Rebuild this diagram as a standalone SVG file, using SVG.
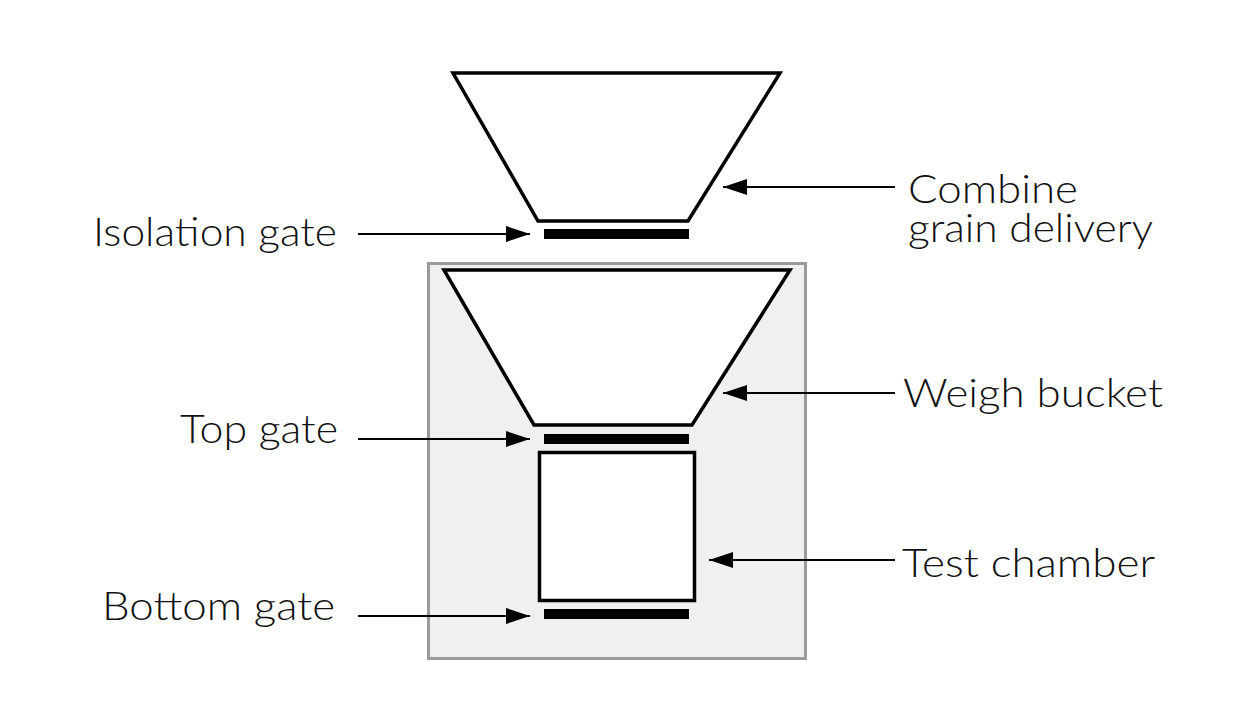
<svg xmlns="http://www.w3.org/2000/svg" width="1237" height="708" viewBox="0 0 1237 708">
<defs>
<marker id="ah" markerUnits="userSpaceOnUse" markerWidth="26" markerHeight="18" refX="24" refY="8" orient="auto">
<path d="M0,0 L24,8 L0,16 Z" fill="#000"/>
</marker>
</defs>
<style>
.lbl{font-family:"Lato","Open Sans","Liberation Sans",sans-serif;font-weight:300;font-size:40px;fill:#111}
.shape{fill:#fff;stroke:#000;stroke-width:3.5;stroke-linejoin:miter}
.gate{fill:#000}
.conn{stroke:#000;stroke-width:2;fill:none;marker-end:url(#ah)}
</style>
<rect width="1237" height="708" fill="#fff"/>
<g id="enclosure">
<rect x="428.5" y="263.5" width="377" height="395" fill="#f0f0f0" stroke="#9a9a9a" stroke-width="3"/>
</g>
<g id="combine-hopper">
<polygon class="shape" points="453,73 780,73 688,221 538,221"/>
</g>
<g id="isolation-gate">
<rect class="gate" x="544" y="229" width="145" height="10"/>
</g>
<g id="weigh-bucket">
<polygon class="shape" points="444,270 790,270 692,425 534,425"/>
</g>
<g id="top-gate">
<rect class="gate" x="544" y="434" width="145" height="10"/>
</g>
<g id="test-chamber">
<rect class="shape" x="539.5" y="452.5" width="155" height="148"/>
</g>
<g id="bottom-gate">
<rect class="gate" x="544" y="609" width="145" height="10"/>
</g>
<g id="connectors">
<line class="conn" x1="358" y1="234" x2="530" y2="234"/>
<line class="conn" x1="358" y1="439" x2="530" y2="439"/>
<line class="conn" x1="358" y1="616" x2="530" y2="616"/>
<line class="conn" x1="895" y1="187" x2="723" y2="187"/>
<line class="conn" x1="895" y1="393" x2="723" y2="393"/>
<line class="conn" x1="895" y1="560" x2="709" y2="560"/>
</g>
<g id="labels">
<text class="lbl" x="93" y="246" textLength="244" lengthAdjust="spacingAndGlyphs">Isolation gate</text>
<text class="lbl" x="180" y="443" textLength="158" lengthAdjust="spacingAndGlyphs">Top gate</text>
<text class="lbl" x="102" y="620" textLength="233" lengthAdjust="spacingAndGlyphs">Bottom gate</text>
<text class="lbl" x="908" y="203" textLength="170" lengthAdjust="spacingAndGlyphs">Combine</text>
<text class="lbl" x="908" y="242" textLength="245" lengthAdjust="spacingAndGlyphs">grain delivery</text>
<text class="lbl" x="903" y="407" textLength="260" lengthAdjust="spacingAndGlyphs">Weigh bucket</text>
<text class="lbl" x="902" y="577" textLength="253" lengthAdjust="spacingAndGlyphs">Test chamber</text>
</g>
</svg>
